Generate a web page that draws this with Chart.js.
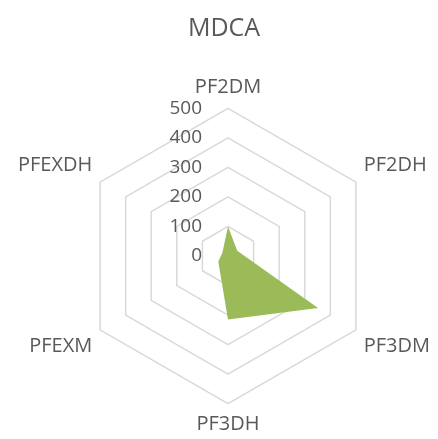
<!DOCTYPE html>
<html>
<head>
<meta charset="utf-8">
<script src="https://cdn.jsdelivr.net/npm/chart.js@4/dist/chart.umd.min.js"></script>
<style>
    html, body { margin: 0; padding: 0; background: #ffffff; }
    #chart { display: block; }
</style>
</head>
<body>
<canvas id="chart" width="438" height="439"></canvas>
<script>
var labels = ["PF2DM", "PF2DH", "PF3DM", "PF3DH", "PFEXM", "PFEXDH"];
var values = [100, 36, 352, 215, 38, 22];
var tickValues = [0, 100, 200, 300, 400, 500];

var textColor = "#595959";
var fontFamily = "'Open Sans', 'Noto Sans', sans-serif";

// tick labels sit left of the vertical axis, like the original
var tickLabelPlugin = {
    id: "tickLabels",
    afterDraw: function (chart) {
        let scale = chart.scales.r;
        let ctx = chart.ctx;
        ctx.save();
        ctx.font = "19px " + fontFamily;
        ctx.fillStyle = textColor;
        ctx.textAlign = "right";
        ctx.textBaseline = "middle";
        tickValues.forEach(function (v) {
            let d = scale.getDistanceFromCenterForValue(v);
            ctx.fillText(String(v), scale.xCenter - 26, scale.yCenter - d);
        });
        ctx.restore();
    }
};

new Chart(document.getElementById("chart"), {
    type: "radar",
    data: {
        labels: labels,
        datasets: [
            {
                label: "MDCA",
                data: values,
                backgroundColor: "#9BBB59",
                borderWidth: 0,
                pointRadius: 0,
                fill: true
            }
        ]
    },
    options: {
        responsive: false,
        animation: false,
        layout: {
            padding: { left: 14, right: 4, top: 0, bottom: 1 }
        },
        plugins: {
            legend: {
                display: false
            },
            tooltip: {
                enabled: false
            },
            title: {
                display: true,
                text: "MDCA",
                color: textColor,
                font: { family: fontFamily, size: 25, weight: "normal" },
                padding: { top: 14, bottom: 31 }
            }
        },
        scales: {
            r: {
                min: 0,
                max: 500,
                ticks: {
                    stepSize: 100,
                    display: false
                },
                grid: {
                    color: "#D9D9D9",
                    lineWidth: 1.5
                },
                angleLines: {
                    display: false
                },
                pointLabels: {
                    color: textColor,
                    font: { family: fontFamily, size: 20 },
                    padding: 9
                }
            }
        }
    },
    plugins: [tickLabelPlugin]
});
</script>
</body>
</html>
